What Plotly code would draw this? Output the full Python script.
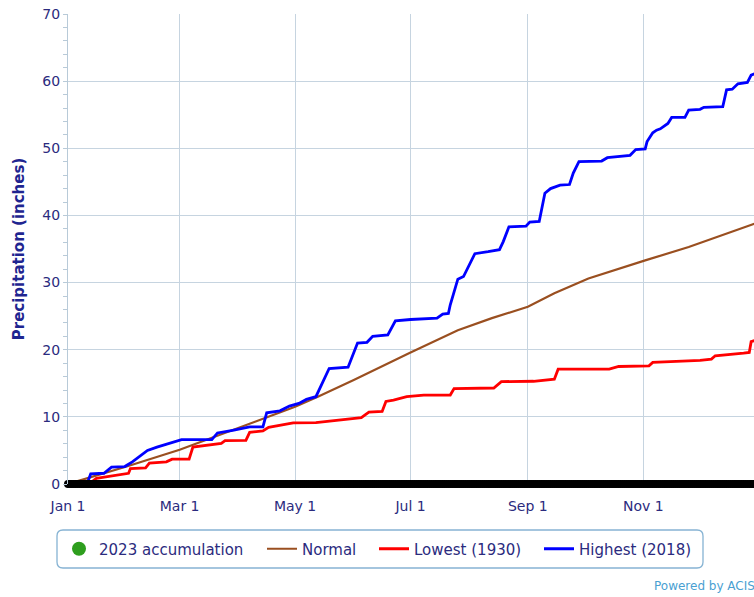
import plotly.graph_objects as go
import pandas as pd

# ---- data ----
tick_dates = ["2023-01-01", "2023-03-01", "2023-05-01", "2023-07-01", "2023-09-01", "2023-11-01"]
tick_labels = ["Jan 1", "Mar 1", "May 1", "Jul 1", "Sep 1", "Nov 1"]

acc_dates = pd.date_range("2023-01-01", "2023-12-31", freq="D")
acc_2023 = [0.0] * len(acc_dates)

normal_dates = ["2023-01-01", "2023-02-01", "2023-03-01", "2023-04-01", "2023-05-01", "2023-05-13",
                "2023-06-01", "2023-07-01", "2023-07-26", "2023-08-13", "2023-09-01", "2023-09-15",
                "2023-10-03", "2023-11-02", "2023-11-25", "2023-12-31"]
normal_vals = [0.0, 2.6, 5.1, 8.3, 11.5, 13.0, 15.5, 19.6, 22.9, 24.7, 26.4, 28.4, 30.6, 33.3, 35.3, 38.9]

low_dates = ["2023-01-01", "2023-01-12", "2023-01-16", "2023-01-25", "2023-02-02", "2023-02-03",
             "2023-02-11", "2023-02-13", "2023-02-22", "2023-02-25", "2023-03-06", "2023-03-08",
             "2023-03-11", "2023-03-23", "2023-03-25", "2023-04-05", "2023-04-07", "2023-04-14",
             "2023-04-17", "2023-04-23", "2023-04-30", "2023-05-12", "2023-05-24", "2023-06-05",
             "2023-06-09", "2023-06-16", "2023-06-18", "2023-06-22", "2023-06-29", "2023-07-08",
             "2023-07-22", "2023-07-24", "2023-08-14", "2023-08-18", "2023-09-04", "2023-09-15",
             "2023-09-17", "2023-10-14", "2023-10-19", "2023-11-04", "2023-11-06", "2023-12-01",
             "2023-12-07", "2023-12-09", "2023-12-24", "2023-12-27", "2023-12-28", "2023-12-31"]
low_vals = [0.0, 0.0, 0.85, 1.2, 1.6, 2.3,
            2.4, 3.1, 3.3, 3.7, 3.7, 5.5,
            5.6, 6.05, 6.45, 6.5, 7.7, 7.9,
            8.45, 8.8, 9.1, 9.15, 9.5, 9.9,
            10.7, 10.8, 12.3, 12.5, 13.0, 13.25,
            13.25, 14.2, 14.3, 15.25, 15.3, 15.6,
            17.1, 17.1, 17.5, 17.6, 18.1, 18.4,
            18.6, 19.1, 19.5, 19.6, 21.2, 21.5]

high_dates = ["2023-01-01", "2023-01-11", "2023-01-13", "2023-01-20", "2023-01-24", "2023-01-31",
              "2023-02-04", "2023-02-08", "2023-02-12", "2023-02-17", "2023-02-24", "2023-03-02",
              "2023-03-18", "2023-03-21", "2023-03-29", "2023-04-07", "2023-04-14", "2023-04-16",
              "2023-04-23", "2023-04-28", "2023-05-03", "2023-05-07", "2023-05-12", "2023-05-19",
              "2023-05-29", "2023-06-03", "2023-06-08", "2023-06-11", "2023-06-19", "2023-06-23",
              "2023-07-01", "2023-07-15", "2023-07-18", "2023-07-21", "2023-07-22", "2023-07-26",
              "2023-07-29", "2023-08-04", "2023-08-11", "2023-08-17", "2023-08-19", "2023-08-22",
              "2023-08-31", "2023-09-02", "2023-09-07", "2023-09-10", "2023-09-13", "2023-09-18",
              "2023-09-23", "2023-09-25", "2023-09-28", "2023-10-10", "2023-10-13", "2023-10-25",
              "2023-10-28", "2023-11-02", "2023-11-03", "2023-11-06", "2023-11-08", "2023-11-10",
              "2023-11-14", "2023-11-16", "2023-11-23", "2023-11-25", "2023-12-01", "2023-12-03",
              "2023-12-13", "2023-12-15", "2023-12-18", "2023-12-21", "2023-12-26", "2023-12-28",
              "2023-12-31"]
high_vals = [0.0, 0.0, 1.5, 1.6, 2.5, 2.6,
             3.3, 4.2, 5.0, 5.5, 6.1, 6.6,
             6.6, 7.6, 8.0, 8.5, 8.5, 10.6,
             10.9, 11.6, 12.0, 12.6, 13.0, 17.2,
             17.4, 21.0, 21.1, 22.0, 22.2, 24.3,
             24.5, 24.7, 25.3, 25.4, 26.7, 30.5,
             30.9, 34.3, 34.6, 34.9, 36.1, 38.3,
             38.4, 39.0, 39.1, 43.3, 44.0, 44.5,
             44.6, 46.3, 48.0, 48.1, 48.6, 48.95,
             49.8, 49.9, 51.0, 52.3, 52.7, 52.9,
             53.7, 54.6, 54.6, 55.7, 55.8, 56.1,
             56.2, 58.7, 58.8, 59.6, 59.8, 60.9,
             61.2]

# ---- styling ----
FONT = "DejaVu Sans"
NAVY = "#2b2b7e"
GRID = "#c6d4e0"
AXIS = "#b8cad8"

fig = go.Figure()

fig.add_trace(go.Scatter(x=[None], y=[None], mode="markers", name="2023 accumulation",
                         marker=dict(color="#2e9e1e", size=14), legendrank=1, legendwidth=158))
fig.add_trace(go.Scatter(x=normal_dates, y=normal_vals, mode="lines", name="Normal",
                         line=dict(color="#9a4f20", width=2.2), legendrank=2, legendwidth=67))
fig.add_trace(go.Scatter(x=low_dates, y=low_vals, mode="lines", name="Lowest (1930)",
                         line=dict(color="#ff0000", width=2.8), legendrank=3, legendwidth=120))
fig.add_trace(go.Scatter(x=high_dates, y=high_vals, mode="lines", name="Highest (2018)",
                         line=dict(color="#0000ff", width=2.8), legendrank=4, legendwidth=112))
fig.add_trace(go.Scatter(x=acc_dates, y=acc_2023, mode="markers", showlegend=False,
                         marker=dict(color="#000000", size=8), cliponaxis=False))

L, R, T, B = 68, 0, 14, 113
W, H = 754, 597
pw, ph = W - L - R, H - T - B

def px_x(p):
    return (p - L) / pw

def px_y(p):
    return (H - B - p) / ph

# rounded legend box
x0, x1 = px_x(57), px_x(703)
ytop, ybot = px_y(530), px_y(568)
rx, ry = 6 / pw, 6 / ph
path = (f"M {x0+rx},{ytop} L {x1-rx},{ytop} Q {x1},{ytop} {x1},{ytop-ry} "
        f"L {x1},{ybot+ry} Q {x1},{ybot} {x1-rx},{ybot} L {x0+rx},{ybot} "
        f"Q {x0},{ybot} {x0},{ybot+ry} L {x0},{ytop-ry} Q {x0},{ytop} {x0+rx},{ytop} Z")

fig.update_layout(
    width=W, height=H,
    margin=dict(l=L, r=R, t=T, b=B),
    paper_bgcolor="white", plot_bgcolor="white",
    font=dict(family=FONT, color=NAVY, size=14),
    showlegend=True,
    legend=dict(orientation="h", x=px_x(59), xanchor="left", y=px_y(549), yanchor="middle",
                bgcolor="rgba(0,0,0,0)", borderwidth=0,
                font=dict(family=FONT, size=15, color=NAVY), traceorder="normal"),
    shapes=[dict(type="path", xref="paper", yref="paper", path=path,
                 line=dict(color="#86b3d3", width=1.3), fillcolor="rgba(0,0,0,0)", layer="above")],
    annotations=[dict(text="Powered by ACIS", xref="paper", yref="paper",
                      x=px_x(652), y=px_y(586), xanchor="left", yanchor="middle",
                      showarrow=False, font=dict(family=FONT, size=12, color="#4a9fd2"))],
)

fig.update_xaxes(
    type="date", range=["2023-01-01", "2023-12-29 12:00"],
    tickvals=tick_dates, ticktext=tick_labels,
    showgrid=True, gridcolor=GRID, gridwidth=1,
    zeroline=False, showline=False, ticks="", ticklabelstandoff=12,
    tickfont=dict(family=FONT, size=14, color=NAVY),
)
fig.update_yaxes(
    range=[0, 70], dtick=10, tick0=0,
    showgrid=True, gridcolor=GRID, gridwidth=1,
    zeroline=False, showline=True, linecolor=AXIS, linewidth=1,
    ticks="outside", ticklen=4, tickcolor=AXIS,
    minor=dict(dtick=2, ticks="outside", ticklen=4, tickcolor=AXIS, showgrid=False),
    tickfont=dict(family=FONT, size=14, color=NAVY),
    title=dict(text="<b>Precipitation (inches)</b>", standoff=14,
               font=dict(family=FONT, size=15, color="#1f2590")),
)

fig.write_html("out.html", config={"displayModeBar": False},
               post_script="document.body.style.margin='0';document.body.style.overflow='hidden';")
